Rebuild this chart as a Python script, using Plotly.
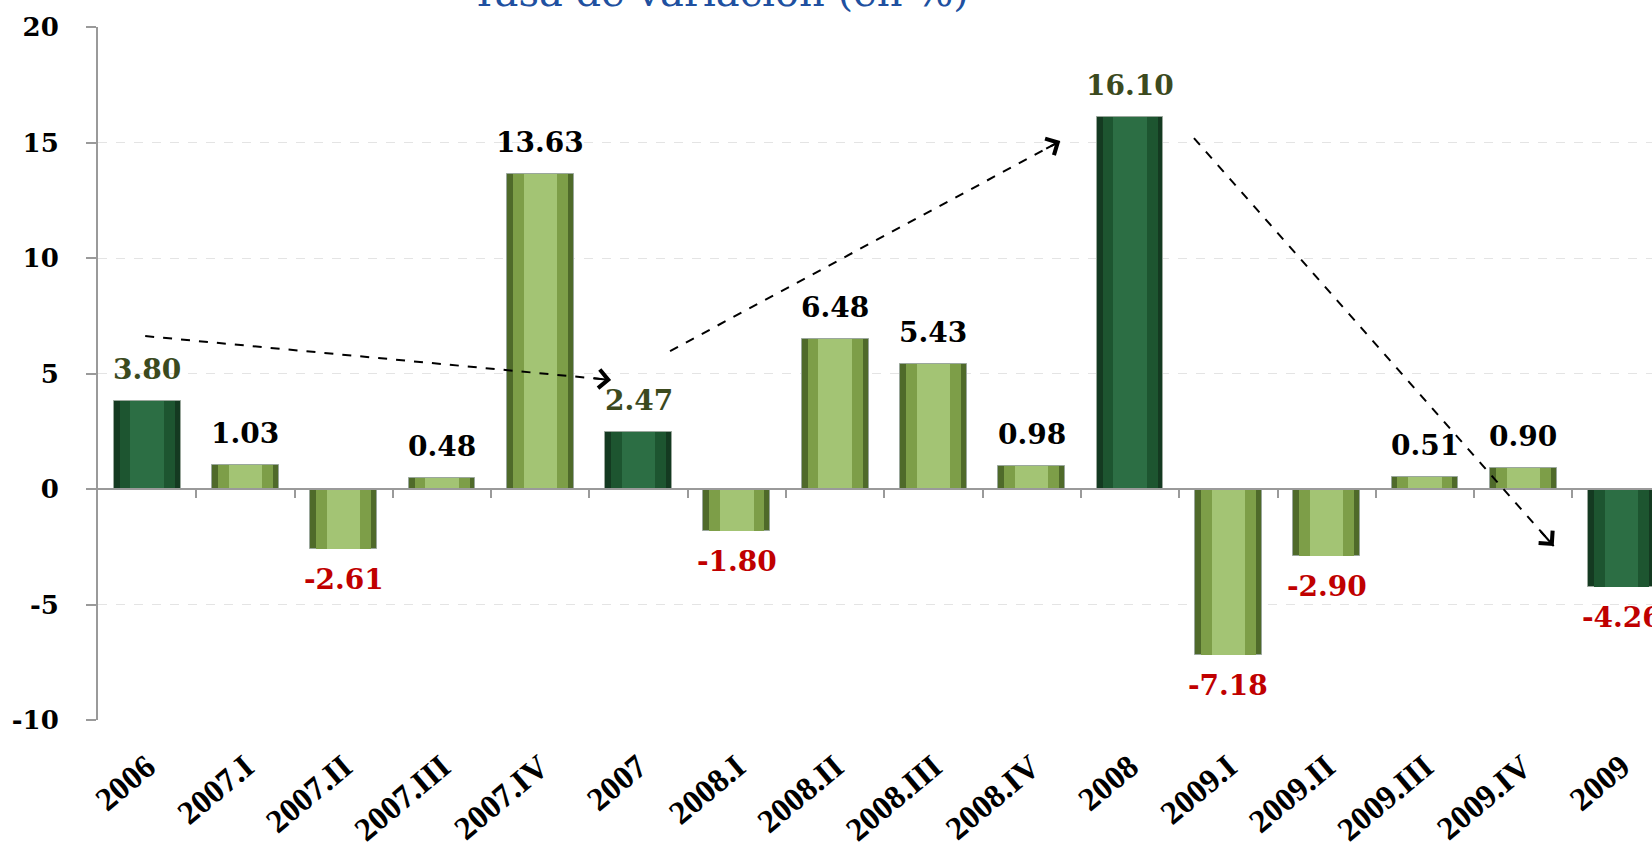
import plotly.graph_objects as go

# Periods (annual totals and quarters) and their growth rates, %
categories = ["2006", "2007.I", "2007.II", "2007.III", "2007.IV", "2007",
              "2008.I", "2008.II", "2008.III", "2008.IV", "2008",
              "2009.I", "2009.II", "2009.III", "2009.IV", "2009"]
values = [3.80, 1.03, -2.61, 0.48, 13.63, 2.47,
          -1.80, 6.48, 5.43, 0.98, 16.10,
          -7.18, -2.90, 0.51, 0.90, -4.26]
is_annual = [c.isdigit() for c in categories]

# Trend arrows: (x0, y0, x1, y1) in category-index / value units
trend_arrows = [
    (-0.02, 6.62, 4.72, 4.72),
    (5.32, 5.97, 9.29, 15.06),
    (10.65, 15.19, 14.31, -2.47),
]

y_ticks = [-10, -5, 0, 5, 10, 15, 20]

idx = list(range(len(categories)))

# Bar palettes: outer edge, mid tone, highlight
annual_cols = ("#143a21", "#1d5530", "#2c6e44")
quarter_cols = ("#4f6a2a", "#7d9e48", "#a3c474")

fig = go.Figure()
layers = [(0.68, 0), (0.56, 1), (0.34, 2)]
for width, k in layers:
    fig.add_trace(go.Bar(
        x=idx, y=values, width=width,
        marker=dict(
            color=[annual_cols[k] if a else quarter_cols[k] for a in is_annual],
            line=dict(width=1 if k == 0 else 0,
                      color="#9aa79c"),
        ),
        hoverinfo="skip", showlegend=False,
    ))

# carrier trace for the labelled bottom axis
fig.add_trace(go.Scatter(x=idx, y=[None] * len(idx), xaxis="x2",
                         mode="markers", showlegend=False, hoverinfo="skip"))

label_font = "DejaVu Serif"
for i, v in enumerate(values):
    if v < 0:
        col = "#c00000"
    elif is_annual[i]:
        col = "#3c4a1e"
    else:
        col = "#000000"
    fig.add_annotation(
        x=i, y=v, text=f"<b>{v:.2f}</b>", showarrow=False,
        yanchor="bottom" if v >= 0 else "top",
        yshift=13 if v >= 0 else -12,
        font=dict(family=label_font, size=28, color=col),
    )

for x0, y0, x1, y1 in trend_arrows:
    fig.add_shape(type="line", x0=x0, y0=y0, x1=x1, y1=y1, xref="x", yref="y",
                  line=dict(color="black", width=2, dash="dash"))
    fig.add_annotation(
        x=x1, y=y1, ax=x1 - 0.04 * (x1 - x0), ay=y1 - 0.04 * (y1 - y0),
        xref="x", yref="y", axref="x", ayref="y", text="",
        showarrow=True, arrowhead=4, arrowsize=1.8, arrowwidth=2,
        arrowcolor="black", standoff=0,
    )

fig.add_annotation(
    x=0.40, y=1.015, xref="paper", yref="paper", xanchor="center", yanchor="bottom",
    text="Tasa de variación (en %)", showarrow=False,
    font=dict(family="DejaVu Serif", size=40, color="#2050a0"),
)

x_range = [-0.5, 15.31]
fig.update_layout(
    width=1652, height=849,
    margin=dict(l=98, r=0, t=27, b=129),
    paper_bgcolor="white", plot_bgcolor="white",
    barmode="overlay", bargap=0,
    xaxis=dict(
        range=x_range, anchor="free", position=1 / 3,
        showline=True, linecolor="#9a9a9a", linewidth=2,
        ticks="outside", ticklen=8, tickwidth=2, tickcolor="#9a9a9a",
        tickvals=[i + 0.5 for i in idx[:-1]],
        showticklabels=False, showgrid=False, zeroline=False,
    ),
    xaxis2=dict(
        overlaying="x", matches="x", anchor="y", side="bottom",
        tickvals=idx, ticktext=categories, tickangle=-40,
        ticks="", showline=False, showgrid=False, zeroline=False,
        ticklabelstandoff=20,
        tickfont=dict(family="Liberation Serif", size=33, color="black",
                      weight="bold"),
    ),
    yaxis=dict(
        range=[-10, 20], tickvals=y_ticks, ticktext=[str(t) for t in y_ticks],
        showline=True, linecolor="#9a9a9a", linewidth=2,
        ticks="outside", ticklen=10, tickwidth=2, tickcolor="#9a9a9a",
        showgrid=True, gridcolor="#e4e4e4", griddash="dash", gridwidth=1,
        zeroline=False, ticklabelstandoff=22,
        tickfont=dict(family="DejaVu Serif", size=26, color="black",
                      weight="bold"),
    ),
)

fig.write_html("out.html")
